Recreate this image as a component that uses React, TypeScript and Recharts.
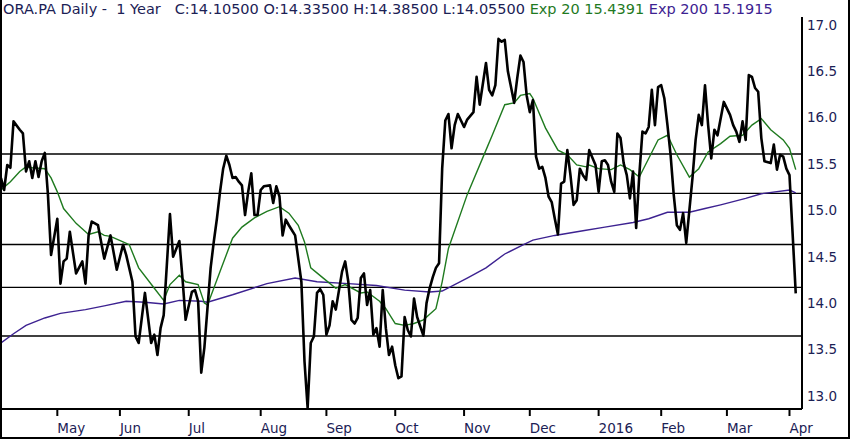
import React from 'react';
import { LineChart, Line, XAxis, YAxis, ReferenceLine } from 'recharts';

// trading-day index and closing price at the turning points of the price line
const closeDays = [
  0, 1, 2, 3, 4, 6, 7, 8, 9, 10, 11, 12, 13, 14, 15, 16, 18, 19, 20, 21, 22, 24, 26, 27, 28, 29, 31, 33,
  35, 37, 39, 40, 42, 43, 44, 46, 48, 49, 50, 51, 52, 53, 54, 55, 57, 58, 59, 61, 62, 63, 64, 65, 67, 68,
  69, 70, 71, 72, 73, 74, 75, 76, 77, 78, 79, 80, 81, 82, 83, 84, 86, 87, 88, 89, 90, 91, 92, 94, 96, 97,
  98, 99, 100, 101, 102, 103, 104, 105, 106, 107, 109, 110, 111, 112, 113, 114, 115, 116, 117, 118, 119,
  120, 121, 122, 123, 124, 125, 126, 127, 128, 129, 130, 131, 132, 133, 135, 136, 137, 138, 139, 140, 141,
  142, 143, 144, 145, 146, 148, 149, 151, 152, 153, 155, 156, 157, 158, 159, 160, 161, 162, 164, 165, 166,
  167, 168, 169, 170, 171, 172, 173, 174, 175, 176, 177, 178, 179, 180, 181, 182, 183, 184, 185, 186, 187,
  188, 190, 191, 192, 193, 194, 195, 196, 197, 198, 199, 200, 201, 202, 203, 204, 205, 206, 207, 208, 209,
  210, 211, 212, 213, 214, 215, 216, 217, 218, 219, 220, 221, 222, 223, 224, 225, 226, 227, 228, 229, 231,
  233, 234, 235, 236, 237, 238, 239, 240, 241, 242, 243, 244, 246, 247, 248, 249, 250, 251, 252, 253, 254,
];
const closeValues = [
  15.35, 15.22, 15.49, 15.46, 15.96, 15.87, 15.83, 15.42, 15.53, 15.35, 15.53, 15.36, 15.53, 15.62, 15.17,
  14.52, 14.91, 14.21, 14.45, 14.48, 14.77, 14.32, 14.45, 14.21, 14.73, 14.88, 14.84, 14.48,
  14.73, 14.36, 14.63, 14.52, 14.23, 13.64, 13.57, 14.11, 13.57, 13.66, 13.44, 13.73, 13.87, 14.41, 14.96,
  14.5, 14.67, 14.27, 13.82, 14.12, 14.14, 14.02, 13.25, 13.52, 14.38, 14.66,
  14.91, 15.2, 15.45, 15.59, 15.49, 15.35, 15.36, 15.31, 15.27, 14.95, 15.2, 15.4, 14.95, 14.95, 15.22,
  15.26, 15.27, 15.08, 15.26, 15.15, 14.73, 14.9, 14.84, 14.73, 14.23, 13.37,
  12.87, 13.57, 13.64, 14.11, 14.15, 14.09, 13.66, 13.76, 14.02, 13.93, 14.34, 14.45, 14.23, 13.82, 13.78,
  13.84, 14.27, 14.32, 13.98, 14.14, 13.66,
  13.73, 13.53, 14.14, 13.73, 13.44, 13.53, 13.33, 13.19, 13.21, 13.85, 13.71, 13.64, 14.05, 13.85, 13.65,
  14.0, 14.16, 14.28, 14.38, 14.43, 15.45,
  15.97, 16.04, 15.67, 15.92, 16.04, 15.9, 15.98, 16.06, 16.44, 16.14, 16.59, 16.3, 16.24, 16.35, 16.85,
  16.82, 16.84, 16.5, 16.16, 16.43, 16.67,
  16.6, 16.24, 16.06, 16.19, 15.58, 15.45, 15.47, 15.35, 15.15, 15.09, 14.91, 14.74, 15.29, 15.31, 15.65,
  15.38, 15.06, 15.11, 15.45, 15.38, 15.33,
  15.65, 15.49, 15.2, 15.53, 15.54, 15.49, 15.31, 15.2, 15.83, 15.78, 15.51, 15.38, 15.13, 15.42, 14.81,
  15.38, 15.85, 15.83, 15.9, 16.3, 15.92,
  16.33, 16.35, 16.21, 15.92, 15.6, 15.17, 14.84, 14.79, 14.97, 14.65, 15.0, 15.35, 15.76, 16.03, 15.92,
  16.35, 15.92, 15.56, 15.87, 15.81, 16.17,
  16.03, 15.92, 15.85, 15.74, 15.96, 15.76, 16.46, 16.44, 16.32, 16.28, 15.78, 15.53, 15.51, 15.71, 15.44,
  15.6, 15.58, 15.45, 15.38, 14.75, 14.105,
];

const ema20Days = [
  0, 3, 6, 8, 10, 14, 16, 18, 20, 24, 28, 31, 33, 35, 39, 41, 44, 49, 52, 54, 57, 59, 63, 65, 66, 70, 74,
  77, 81, 85, 89, 92, 95, 97, 99, 103, 107, 110, 115, 117, 121, 123, 126, 129, 132, 135, 139, 141, 143,
  149, 155, 157, 161, 164, 166, 169, 170, 174, 178, 181, 184, 187, 188, 191, 195, 198, 201, 204, 207,
  210, 213, 216, 220, 223, 226, 230, 233, 237, 240, 243, 246, 250, 252, 254,
];
const ema20Values = [
  15.22, 15.31, 15.42, 15.47, 15.46, 15.45, 15.35, 15.2, 15.02, 14.86, 14.74, 14.77, 14.73, 14.72, 14.66,
  14.63, 14.38, 14.16, 14.03, 14.2, 14.3, 14.23, 14.2, 14.0, 13.98, 14.34, 14.7,
  14.82, 14.92, 14.99, 15.04, 14.97, 14.84, 14.66, 14.38, 14.27, 14.16, 14.2, 14.11, 14.12, 14.02, 13.94,
  13.78, 13.76, 13.78, 13.82, 13.94, 14.23, 14.59,
  15.17, 15.65, 15.81, 16.14, 16.16, 16.24, 16.26, 16.21, 15.89, 15.65, 15.6, 15.49, 15.47, 15.49, 15.45,
  15.44, 15.49, 15.44, 15.36, 15.56,
  15.76, 15.81, 15.6, 15.36, 15.45, 15.63, 15.72, 15.8, 15.81, 15.92, 15.99, 15.87, 15.76, 15.67, 15.44,
];

const ema200Days = [
  0, 4, 8, 14, 19, 27, 33, 40, 46, 52, 57, 64, 66, 74, 85, 94, 101, 111, 120, 129, 137, 141, 149, 155,
  161, 167, 170, 177, 186, 193, 202, 207, 213, 220, 225, 230, 238, 243, 252, 254,
];
const ema200Values = [
  13.57, 13.67, 13.76, 13.84, 13.89, 13.93, 13.97, 14.02, 14.01, 13.99, 14.03, 14.02, 14.01, 14.09, 14.21,
  14.27, 14.23, 14.21, 14.19, 14.14, 14.12, 14.13, 14.27, 14.38,
  14.53, 14.63, 14.68, 14.73, 14.78, 14.82, 14.87, 14.91, 14.98, 14.98, 15.02, 15.06, 15.13, 15.18, 15.22,
  15.19,
];

const levelValues = [15.608, 15.184, 14.632, 14.17, 13.645];

const monthTicks = [18, 38, 60, 83, 104, 126, 148, 169, 191, 211, 232, 252];
const monthLabels = ['May', 'Jun', 'Jul', 'Aug', 'Sep', 'Oct', 'Nov', 'Dec', '2016', 'Feb', 'Mar', 'Apr'];
const priceTicks = [13.0, 13.5, 14.0, 14.5, 15.0, 15.5, 16.0, 16.5, 17.0];

const zip = (days: number[], values: number[]) => days.map((d, k) => ({ day: d, v: values[k] }));
const closeData = zip(closeDays, closeValues);
const ema20Data = zip(ema20Days, ema20Values);
const ema200Data = zip(ema200Days, ema200Values);

const NAVY = '#1b2155';
const GREEN = '#1f7a1f';
const PURPLE = '#3d2291';
const FONT = '"DejaVu Sans", Verdana, sans-serif';

function MonthTick(props: any) {
  const { x, y, payload } = props;
  const idx = monthTicks.indexOf(payload.value);
  return (
    <text x={x} y={y} dy={15} textAnchor="start" fill={NAVY} fontSize={13.5} fontFamily={FONT}>
      {monthLabels[idx]}
    </text>
  );
}

export default function App() {
  return (
    <div style={{ position: 'absolute', left: 0, top: 0, width: 850, height: 439, background: '#fff' }}>
      <div
        style={{
          position: 'absolute',
          left: 3,
          top: 0,
          fontFamily: FONT,
          fontSize: 14.5,
          color: NAVY,
          whiteSpace: 'pre',
          lineHeight: '18px',
        }}
      >
        {'ORA.PA Daily -  1 Year   C:14.10500 O:14.33500 H:14.38500 L:14.05500 '}
        <span style={{ color: GREEN }}>Exp 20 15.4391</span>
        <span style={{ color: PURPLE }}> Exp 200 15.1915</span>
      </div>

      <div style={{ position: 'absolute', left: 0, top: 0 }}>
        <LineChart width={850} height={439} margin={{ top: 17, right: 2, bottom: 2, left: 1 }}>
          <XAxis
            type="number"
            dataKey="day"
            domain={[0, 256]}
            ticks={monthTicks}
            tick={<MonthTick />}
            tickSize={7}
            height={28}
            axisLine={{ stroke: '#000', strokeWidth: 2 }}
            tickLine={{ stroke: '#000', strokeWidth: 2 }}
            allowDataOverflow
          />
          <YAxis
            orientation="right"
            type="number"
            domain={[12.858, 17.086]}
            ticks={priceTicks}
            tickFormatter={(v: number) => v.toFixed(1)}
            width={46}
            tickSize={4}
            tickMargin={1}
            tickLine={false}
            axisLine={{ stroke: '#000', strokeWidth: 2 }}
            tick={{ fill: NAVY, fontSize: 13.5, fontFamily: FONT }}
            allowDataOverflow
          />
          {levelValues.map((lv) => (
            <ReferenceLine key={lv} y={lv} stroke="#000" strokeWidth={1.4} />
          ))}
          <Line
            data={ema200Data}
            dataKey="v"
            type="linear"
            stroke={PURPLE}
            strokeWidth={1.4}
            dot={false}
            isAnimationActive={false}
          />
          <Line
            data={ema20Data}
            dataKey="v"
            type="linear"
            stroke={GREEN}
            strokeWidth={1.4}
            dot={false}
            isAnimationActive={false}
          />
          <Line
            data={closeData}
            dataKey="v"
            type="linear"
            stroke="#000"
            strokeWidth={2.6}
            strokeLinejoin="round"
            dot={false}
            isAnimationActive={false}
          />
        </LineChart>
      </div>

      <div
        style={{
          position: 'absolute',
          inset: 0,
          borderLeft: '2px solid #000',
          borderRight: '2px solid #000',
          borderBottom: '2px solid #000',
          pointerEvents: 'none',
        }}
      />
    </div>
  );
}
